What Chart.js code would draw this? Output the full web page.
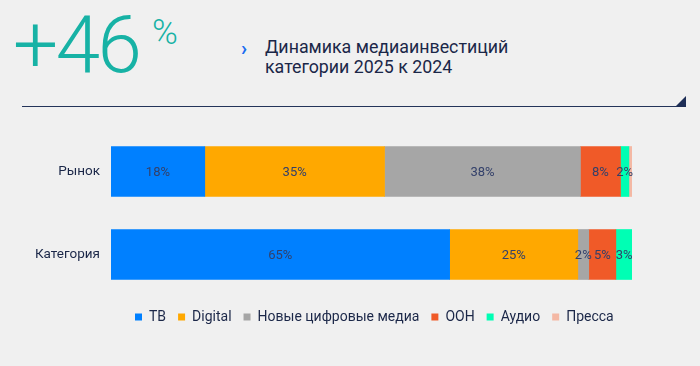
<!DOCTYPE html>
<html lang="ru">
<head>
<meta charset="utf-8">
<script src="https://cdn.jsdelivr.net/npm/chart.js@4.4.1/dist/chart.umd.min.js"></script>
<style>
    html, body { margin: 0; padding: 0; background: #f0f0f0; }
    body { width: 700px; height: 366px; position: relative; overflow: hidden; font-family: Roboto, sans-serif; }
    .big { position: absolute; left: 13px; top: -2px; font-size: 80px; font-weight: 300; color: #17b2a5; letter-spacing: -2.5px; }
    .pct { position: absolute; left: 152px; top: 12px; font-size: 35px; font-weight: 300; color: #17b2a5; }
    .chev { position: absolute; left: 241px; top: 36px; font-size: 20px; font-weight: 700; color: #1a6cf0; }
    .title { position: absolute; left: 265px; top: 37px; font-size: 17.8px; line-height: 20px; color: #1b2748; }
    .rule { position: absolute; left: 22px; top: 106px; width: 663px; height: 1px; background: #243459; }
    .tri { position: absolute; left: 675px; top: 96px; width: 0; height: 0; border-left: 11px solid transparent; border-bottom: 11px solid #1d2d55; }
    #wrap { position: absolute; left: 0; top: 0; width: 700px; height: 366px; }
</style>
</head>
<body>
<div class="big">+46</div>
<div class="pct">%</div>
<div class="chev">›</div>
<div class="title">Динамика медиаинвестиций<br>категории 2025 к 2024</div>
<div class="rule"></div>
<div class="tri"></div>
<div id="wrap"><canvas id="mainChart"></canvas></div>
<script>
// ——— DATA ———
const categories = ['Рынок', 'Категория'];
const seriesNames = ['ТВ', 'Digital', 'Новые цифровые медиа', 'OOH', 'Аудио', 'Пресса'];
const tv = [18, 65];
const digital = [34.5, 24.6];
const newDigital = [37.6, 2.1];
const ooh = [7.7, 5.2];
const audio = [1.6, 3.2];
const press = [0.6, 0];
const colors = ['#0080ff', '#ffa800', '#a6a6a6', '#f05a28', '#00ffb4', '#f4b8a4'];

const seriesValues = [tv, digital, newDigital, ooh, audio, press];

// ——— LABELS PLUGIN ———
const barLabels = {
    id: 'barLabels',
    afterDatasetsDraw(chart) {
        const c = chart.ctx;
        c.save();
        c.font = '400 13px Roboto';
        c.fillStyle = '#33406a';
        c.textAlign = 'center';
        c.textBaseline = 'middle';
        chart.data.datasets.forEach((ds, i) => {
            chart.getDatasetMeta(i).data.forEach((bar, j) => {
                const v = ds.data[j];
                if (v < 1.5) return;
                const mid = (bar.x + bar.base) / 2;
                c.fillText(Math.round(v) + '%', mid, bar.y + 1);
            });
        });
        c.restore();
    }
};

// legend sits under the plot area, not the whole canvas
const legendShift = {
    id: 'legendShift',
    afterLayout(chart) {
        const lg = chart.legend;
        const dx = 123, dy = 2;
        lg.left += dx; lg.right += dx;
        lg.top += dy; lg.bottom += dy;
    }
};

// ——— CHART ———
const ctx = document.getElementById('mainChart').getContext('2d');
new Chart(ctx, {
    type: 'bar',
    data: {
        labels: categories,
        datasets: seriesNames.map((name, i) => ({
            label: name,
            data: seriesValues[i],
            backgroundColor: colors[i],
            borderWidth: 0,
            barThickness: 50
        }))
    },
    options: {
        indexAxis: 'y',
        responsive: true,
        maintainAspectRatio: false,
        animation: false,
        layout: { padding: { top: 130, right: 68, left: 0, bottom: 34 } },
        plugins: {
            legend: {
                position: 'bottom',
                align: 'start',
                labels: {
                    boxWidth: 7,
                    boxHeight: 7,
                    padding: 12,
                    color: '#1b2748',
                    font: { family: 'Roboto', size: 14 }
                }
            },
            tooltip: { enabled: false }
        },
        scales: {
            x: { stacked: true, display: false, min: 0, max: 100 },
            y: {
                stacked: true,
                grid: { display: false },
                border: { display: false },
                ticks: { color: '#1b2748', font: { family: 'Roboto', size: 13.5 }, padding: 3 },
                afterFit: s => { s.width = 111; }
            }
        }
    },
    plugins: [barLabels, legendShift]
});
</script>
</body>
</html>
